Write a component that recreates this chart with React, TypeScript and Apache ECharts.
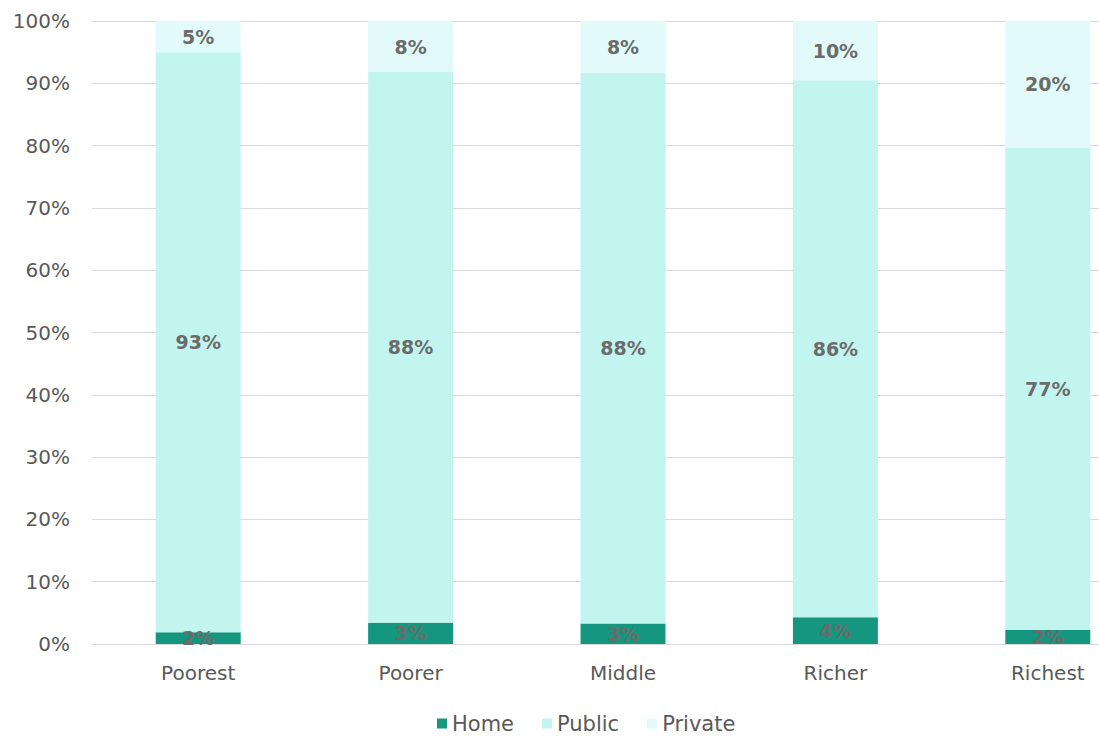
import React, { useEffect, useRef } from "react";
import * as echarts from "echarts";

const categories = ["Poorest", "Poorer", "Middle", "Richer", "Richest"];
const homeValues = [1.9, 3.4, 3.3, 4.3, 2.3];
const publicValues = [93.1, 88.4, 88.4, 86.2, 77.4];
const privateValues = [5.0, 8.2, 8.3, 9.5, 20.3];
const yTicks = [0, 10, 20, 30, 40, 50, 60, 70, 80, 90, 100];

export default function App() {
  const ref = useRef<HTMLDivElement>(null);
  useEffect(() => {
    const chart = echarts.init(ref.current!, undefined, { renderer: "svg" });
    const font = "'DejaVu Sans', Verdana, sans-serif";
    const label = {
      show: true,
      position: "inside",
      color: "#6b6b6b",
      fontWeight: "bold",
      fontSize: 19,
      fontFamily: font,
      formatter: (p: any) => Math.round(p.value) + "%",
    };
    chart.setOption({
      animation: false,
      textStyle: { fontFamily: font },
      grid: { left: 92, right: 0, top: 21, bottom: 94, containLabel: false },
      legend: {
        left: 437,
        top: 713,
        padding: 0,
        itemWidth: 10,
        itemHeight: 10,
        itemGap: 28,
        icon: "rect",
        textStyle: { color: "#595959", fontSize: 21, fontFamily: font },
        data: ["Home", "Public", "Private"],
      },
      xAxis: {
        type: "category",
        data: categories,
        axisLine: { lineStyle: { color: "#d9d9d9" } },
        axisTick: { show: false },
        axisLabel: { color: "#595959", fontSize: 20, fontFamily: font, margin: 19 },
      },
      yAxis: {
        type: "value",
        min: 0,
        max: 100,
        interval: 10,
        axisLine: { show: false },
        axisTick: { show: false },
        splitLine: { lineStyle: { color: "#d9d9d9" } },
        axisLabel: {
          color: "#595959",
          fontSize: 20,
          fontFamily: font,
          margin: 22,
          formatter: (v: number) => (yTicks.includes(v) ? v + "%" : ""),
        },
      },
      series: [
        {
          name: "Home",
          type: "bar",
          stack: "s",
          barWidth: "40%",
          data: homeValues,
          itemStyle: { color: "#15977f" },
          label,
        },
        {
          name: "Public",
          type: "bar",
          stack: "s",
          data: publicValues,
          itemStyle: { color: "#c2f5ef" },
          label,
        },
        {
          name: "Private",
          type: "bar",
          stack: "s",
          data: privateValues,
          itemStyle: { color: "#e3fafa" },
          label,
        },
      ],
    });
    return () => chart.dispose();
  }, []);
  return (
    <div
      style={{ position: "fixed", left: 0, top: 0, width: 1099, height: 738, overflow: "hidden", background: "#fff" }}
    >
      <div ref={ref} style={{ width: 1154, height: 738 }} />
    </div>
  );
}
